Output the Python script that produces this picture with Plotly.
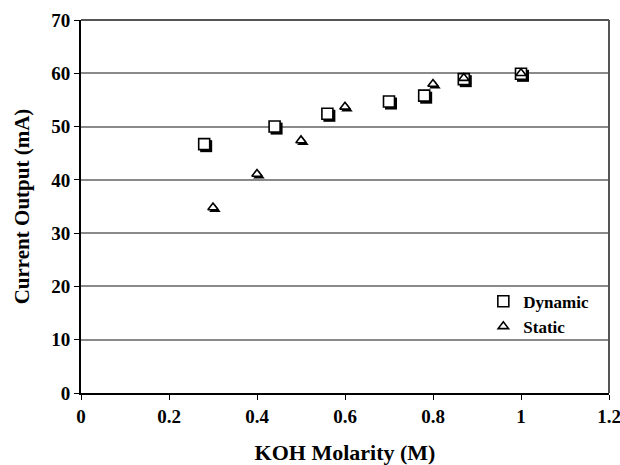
import plotly.graph_objects as go

dyn_x = [0.28, 0.44, 0.56, 0.70, 0.78, 0.87, 1.00]
dyn_y = [46.7, 50.0, 52.4, 54.7, 55.8, 58.9, 59.9]
sta_x = [0.30, 0.40, 0.50, 0.60, 0.80, 0.87, 1.00]
sta_y = [34.8, 41.1, 47.4, 53.7, 58.0, 59.1, 60.0]

x_ticks = [0, 0.2, 0.4, 0.6, 0.8, 1.0, 1.2]
x_labels = ["0", "0.2", "0.4", "0.6", "0.8", "1", "1.2"]
y_ticks = [0, 10, 20, 30, 40, 50, 60, 70]

X_RANGE = [0, 1.2]
Y_RANGE = [0, 70]
# shadow offset (~2px right, ~2px down)
SX = 0.0045
SY = 0.38

fig = go.Figure()
# shadows on the (hidden) base axes
fig.add_trace(go.Scatter(
    x=dyn_x, y=dyn_y, mode="markers", showlegend=False, hoverinfo="skip",
    xaxis="x", yaxis="y",
    marker=dict(symbol="square", size=12, color="black",
                line=dict(color="black", width=0)),
))
fig.add_trace(go.Scatter(
    x=sta_x, y=sta_y, mode="markers", showlegend=False, hoverinfo="skip",
    xaxis="x", yaxis="y",
    marker=dict(symbol="triangle-up", size=10, color="black",
                line=dict(color="black", width=0)),
))
# main markers on the visible overlay axes
fig.add_trace(go.Scatter(
    x=dyn_x, y=dyn_y, mode="markers", name="<b>Dynamic</b>",
    xaxis="x2", yaxis="y2",
    marker=dict(symbol="square", size=11, color="white",
                line=dict(color="black", width=1.6)),
))
fig.add_trace(go.Scatter(
    x=sta_x, y=sta_y, mode="markers", name="<b>Static</b>",
    xaxis="x2", yaxis="y2",
    marker=dict(symbol="triangle-up", size=9, color="white",
                line=dict(color="black", width=1.6)),
))

fig.update_layout(
    width=620, height=465,
    margin=dict(l=81, r=11, t=20, b=72),
    paper_bgcolor="white", plot_bgcolor="white",
    font=dict(family="Liberation Serif", size=19, color="black"),
    showlegend=True,
    legend=dict(x=0.762, y=0.293, xanchor="left", yanchor="top",
                bgcolor="rgba(0,0,0,0)", font=dict(size=17, family="Liberation Serif"),
                itemwidth=30, tracegroupgap=0),
    xaxis=dict(range=[X_RANGE[0] - SX, X_RANGE[1] - SX], visible=False,
               showgrid=False, zeroline=False, automargin=False),
    yaxis=dict(range=[Y_RANGE[0] + SY, Y_RANGE[1] + SY], visible=False,
               showgrid=False, zeroline=False, automargin=False),
    xaxis2=dict(
        overlaying="x", automargin=False,
        range=X_RANGE, tickvals=x_ticks, ticktext=[f"<b>{t}</b>" for t in x_labels],
        showgrid=False, zeroline=False,
        showline=True, linecolor="black", linewidth=2, mirror=False,
        ticks="outside", ticklen=5, tickcolor="black", tickwidth=1,
        ticklabeloverflow="allow",
        title=dict(text="<b>KOH Molarity (M)</b>", font=dict(size=22), standoff=22),
        tickfont=dict(size=19),
    ),
    yaxis2=dict(
        overlaying="y", automargin=False,
        range=Y_RANGE, tickvals=y_ticks, ticktext=[f"<b>{t}</b>" for t in y_ticks],
        showgrid=True, gridcolor="#8a8a8a", gridwidth=1.5, zeroline=False,
        showline=True, linecolor="black", linewidth=2, mirror=False,
        ticks="outside", ticklen=5, tickcolor="black", tickwidth=1,
        title=dict(text="<b>Current Output (mA)</b>", font=dict(size=21), standoff=16),
        tickfont=dict(size=19),
    ),
    shapes=[
        dict(type="line", xref="paper", yref="paper", x0=0, x1=1, y0=1, y1=1,
             line=dict(color="#555555", width=2)),
        dict(type="line", xref="paper", yref="paper", x0=1, x1=1, y0=0, y1=1,
             line=dict(color="#555555", width=2)),
    ],
)

fig.write_html("out.html")
